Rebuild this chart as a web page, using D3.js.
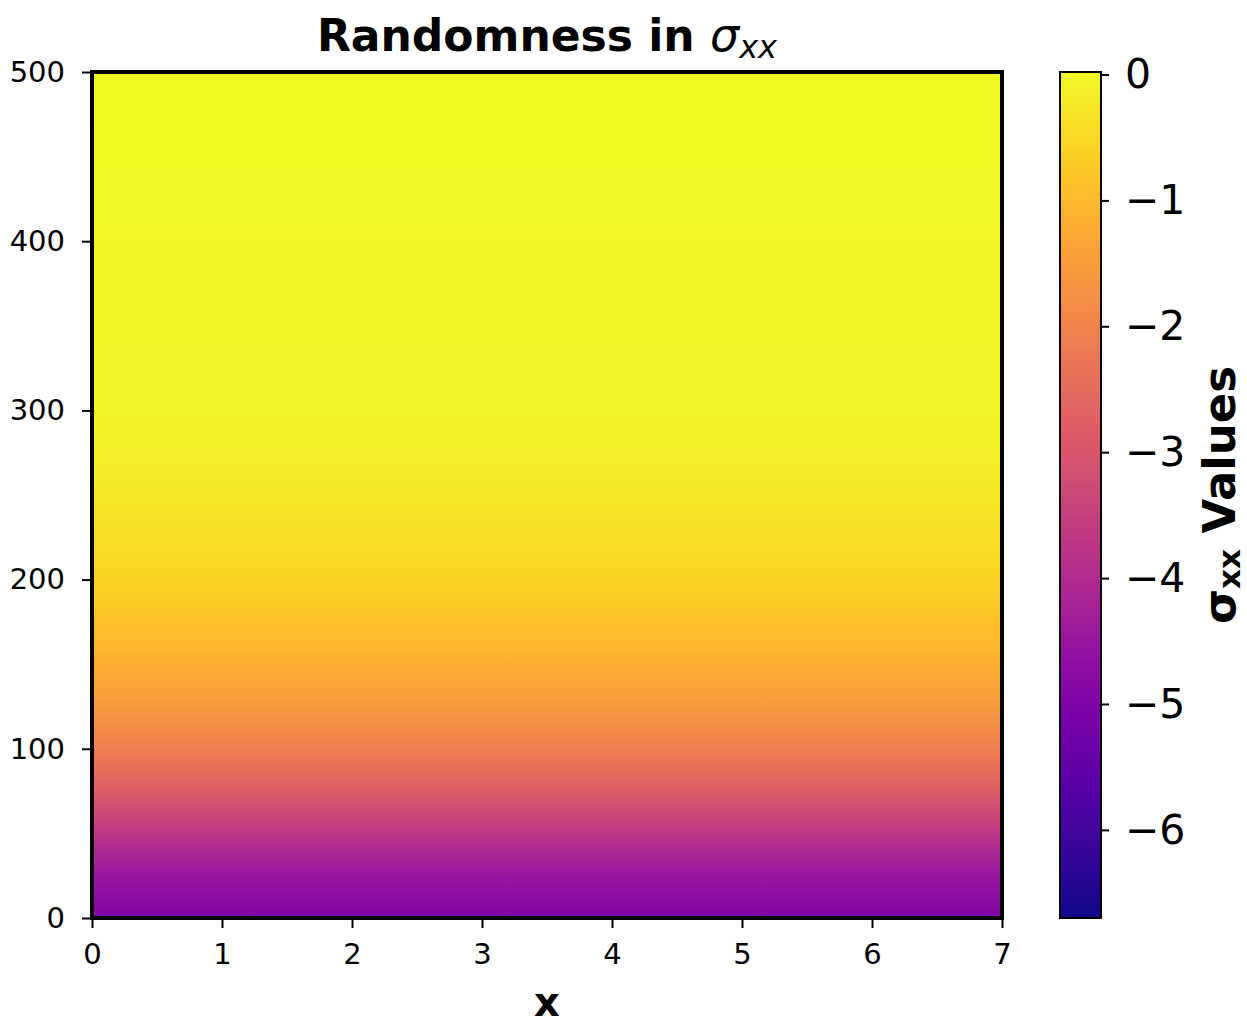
<!DOCTYPE html>
<html>
<head>
<meta charset="utf-8">
<script src="https://cdn.jsdelivr.net/npm/d3@7"></script>
<style>
  html, body { margin: 0; padding: 0; background: #fff; }
  svg { display: block; font-family: "DejaVu Sans", sans-serif; }
</style>
</head>
<body>
<svg id="chart" width="1247" height="1028"></svg>
<script>
// ---- Data ----
const xTicks = [0, 1, 2, 3, 4, 5, 6, 7];
const yTicks = [0, 100, 200, 300, 400, 500];
const cbTicks = [0, -1, -2, -3, -4, -5, -6];
// mean sigma_xx along y (the field is uniform in x apart from noise)
const yLevels    = [0, 10, 20, 30, 40, 50, 60, 70, 80, 90, 100, 110, 120, 130, 140, 150, 160, 170, 180, 190, 200, 220, 240, 260, 280, 300, 340, 400, 500];
const sigmaMeans = [-4.95, -4.8, -4.6, -4.35, -4.05, -3.72, -3.38, -3.02, -2.68, -2.38, -2.1, -1.88, -1.68, -1.5, -1.34, -1.2, -1.05, -0.92, -0.8, -0.68, -0.58, -0.42, -0.3, -0.2, -0.13, -0.08, -0.04, -0.02, 0];
const xDomain = [0, 7];
const yDomain = [0, 500];
const cDomain = [-6.7, 0.02];

// ---- Layout ----
const svg = d3.select("#chart");
const L = 92, R = 1002, T = 72, B = 918;
const cbL = 1060, cbR = 1101;

const x = d3.scaleLinear().domain(xDomain).range([L, R]);
const y = d3.scaleLinear().domain(yDomain).range([B, T]);
const c = d3.scaleSequential(d3.interpolatePlasma).domain(cDomain);
const cy = d3.scaleLinear().domain(cDomain).range([B, T]);

const defs = svg.append("defs");

// field gradient (vertical)
const fg = defs.append("linearGradient").attr("id", "field")
  .attr("gradientUnits", "userSpaceOnUse")
  .attr("x1", 0).attr("x2", 0).attr("y1", y(yDomain[0])).attr("y2", y(yDomain[1]));
yLevels.forEach((lv, i) => {
  fg.append("stop")
    .attr("offset", (lv - yDomain[0]) / (yDomain[1] - yDomain[0]))
    .attr("stop-color", c(sigmaMeans[i]));
});

svg.append("rect")
  .attr("x", x(xDomain[0])).attr("y", y(yDomain[1]))
  .attr("width", x(xDomain[1]) - x(xDomain[0]))
  .attr("height", y(yDomain[0]) - y(yDomain[1]))
  .attr("fill", "url(#field)");

// frame
svg.append("rect")
  .attr("x", L).attr("y", T).attr("width", R - L).attr("height", B - T)
  .attr("fill", "none").attr("stroke", "#000").attr("stroke-width", 4);

// axes
const xAxis = svg.append("g").attr("transform", `translate(0,${B + 2})`)
  .call(d3.axisBottom(x).tickValues(xTicks).tickFormat(d3.format("d")).tickSize(8).tickPadding(15));
const yAxis = svg.append("g").attr("transform", `translate(${L - 2},0)`)
  .call(d3.axisLeft(y).tickValues(yTicks).tickFormat(d3.format("d")).tickSize(8).tickPadding(17));
[xAxis, yAxis].forEach(g => {
  g.select(".domain").remove();
  g.selectAll(".tick line").attr("stroke", "#000").attr("stroke-width", 2);
  g.selectAll(".tick text").attr("fill", "#000")
    .style("font-family", "DejaVu Sans").style("font-size", "29px");
});

// title
const title = svg.append("text")
  .attr("x", (L + R) / 2).attr("y", 51)
  .attr("text-anchor", "middle")
  .style("font-size", "44px").attr("fill", "#000");
title.append("tspan").style("font-weight", "bold").text("Randomness in ");
title.append("tspan").style("font-style", "italic").style("font-size", "46px").text("σ");
title.append("tspan").style("font-style", "italic").style("font-size", "32px").attr("dy", 7).text("xx");

// x label
svg.append("text")
  .attr("x", (L + R) / 2).attr("y", 1016)
  .attr("text-anchor", "middle")
  .style("font-size", "40px").style("font-weight", "bold").attr("fill", "#000")
  .text("x");

// colorbar
const cg = defs.append("linearGradient").attr("id", "cbar")
  .attr("x1", 0).attr("x2", 0).attr("y1", 1).attr("y2", 0);
d3.range(0, 1.0001, 0.02).forEach(t => {
  cg.append("stop").attr("offset", t).attr("stop-color", d3.interpolatePlasma(t));
});
svg.append("rect")
  .attr("x", cbL).attr("y", T).attr("width", cbR - cbL).attr("height", B - T)
  .attr("fill", "url(#cbar)").attr("stroke", "#000").attr("stroke-width", 2);

const cAxis = svg.append("g").attr("transform", `translate(${cbR},0)`)
  .call(d3.axisRight(cy).tickValues(cbTicks).tickFormat(d => d === 0 ? "0" : "\u2212" + Math.abs(d)).tickSize(8).tickPadding(16));
cAxis.select(".domain").remove();
cAxis.selectAll(".tick line").attr("stroke", "#000").attr("stroke-width", 2);
cAxis.selectAll(".tick text").attr("fill", "#000")
  .style("font-family", "DejaVu Sans").style("font-size", "41px");

// colorbar label
const cl = svg.append("text")
  .attr("transform", "translate(1235,495) rotate(-90)")
  .attr("text-anchor", "middle")
  .style("font-size", "45px").style("font-weight", "bold").attr("fill", "#000");
cl.append("tspan").text("σ");
cl.append("tspan").style("font-size", "31px").attr("dy", 5).text("xx");
cl.append("tspan").attr("dy", -5).text(" Values");
</script>
</body>
</html>
